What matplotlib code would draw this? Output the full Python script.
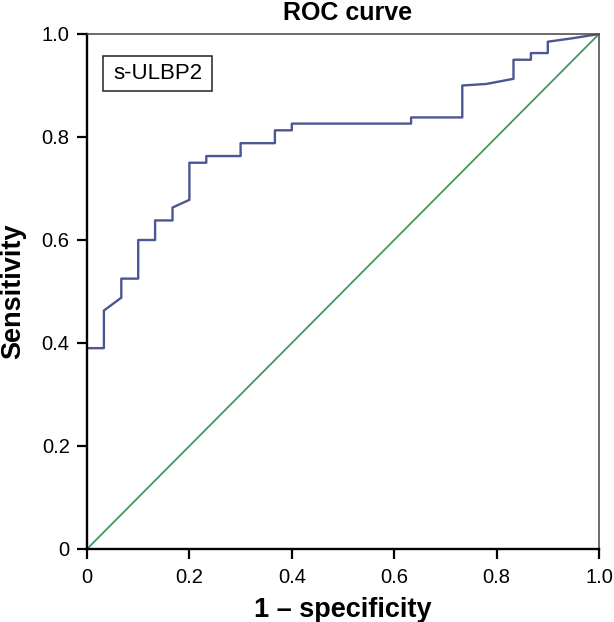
import matplotlib
matplotlib.use("Agg")
import matplotlib.pyplot as plt
from matplotlib.patches import Rectangle

plt.rcParams['font.family'] = ['Liberation Sans', 'DejaVu Sans']

fpr = [0.0, 0.033, 0.033, 0.067, 0.067, 0.1, 0.1, 0.133, 0.133, 0.167, 0.167, 0.2, 0.2,
       0.233, 0.233, 0.3, 0.3, 0.367, 0.367, 0.4, 0.4, 0.633, 0.633, 0.733, 0.733,
       0.78, 0.833, 0.833, 0.867, 0.867, 0.9, 0.9, 0.95, 1.0]
tpr = [0.39, 0.39, 0.463, 0.488, 0.525, 0.525, 0.6, 0.6, 0.638, 0.638, 0.663, 0.678, 0.75,
       0.75, 0.763, 0.763, 0.788, 0.788, 0.813, 0.813, 0.826, 0.826, 0.838, 0.838, 0.9,
       0.903, 0.913, 0.95, 0.95, 0.963, 0.963, 0.985, 0.992, 1.0]
ref_x = [0.0, 1.0]
ref_y = [0.0, 1.0]
ticks = [0, 0.2, 0.4, 0.6, 0.8, 1.0]
tick_labels = ["0", "0.2", "0.4", "0.6", "0.8", "1.0"]
legend_label = "s-ULBP2"

fig = plt.figure(figsize=(6.14, 6.22), dpi=100)
ax = fig.add_axes([87/614, 1-549/622, 512/614, 515/622])

ax.plot(ref_x, ref_y, color='#3f9a5c', lw=1.3)
ax.plot(fpr, tpr, color='#4b5694', lw=1.7)

ax.set_xlim(0, 1)
ax.set_ylim(0, 1)
ax.set_xticks(ticks)
ax.set_xticklabels(tick_labels)
ax.set_yticks(ticks)
ax.set_yticklabels(tick_labels)
ax.tick_params(direction='out', length=7.5, width=1.6, labelsize=14.5, pad=5)
ax.tick_params(axis='x', pad=6.5)

for side in ['left', 'bottom']:
    ax.spines[side].set_linewidth(1.7)
    ax.spines[side].set_color('black')
for side in ['top', 'right']:
    ax.spines[side].set_linewidth(1.1)
    ax.spines[side].set_color('#444444')

fig.text(348/614, 1-13/622, "ROC curve", fontsize=18, fontweight='bold',
         ha='center', va='center')
ax.set_xlabel("1 – specificity", fontsize=19.5, fontweight='bold', labelpad=7)
ax.set_ylabel("Sensitivity", fontsize=19.5, fontweight='bold', labelpad=11)

x0, x1 = (103-87)/512, (212-87)/512
y0, y1 = (549-91)/515, (549-56)/515
ax.add_patch(Rectangle((x0, y0), x1-x0, y1-y0, transform=ax.transAxes,
                       fc='white', ec='#222222', lw=1.1, zorder=5))
ax.text((x0+x1)/2, (y0+y1)/2, legend_label, transform=ax.transAxes, fontsize=16,
        ha='center', va='center', zorder=6)

fig.savefig("out.png", dpi=100)
